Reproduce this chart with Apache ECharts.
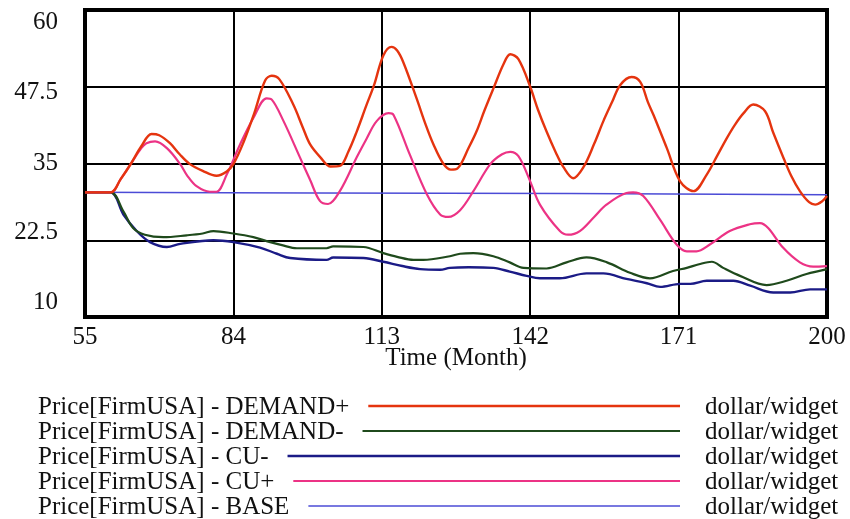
<!DOCTYPE html>
<html>
<head>
<meta charset="utf-8">
<script src="https://cdn.jsdelivr.net/npm/echarts@6/dist/echarts.min.js"></script>
<style>
html,body{margin:0;padding:0;background:#fff;}
#chart{width:850px;height:519px;}
</style>
</head>
<body>
<div id="chart"></div>
<script>
// ---- data (month, price) ----
const demandPlus = [[55,30.3],[60,30.3],[62,32.5],[64,35],[66,37.8],[68,39.8],[69.5,39.6],[71.6,38.3],[73.5,36.5],[75.5,34.9],[78,33.8],[80.7,33],[82.7,33.7],[84,34.9],[86,38.5],[88,43],[90.2,48.5],[91.5,49.3],[93,48.7],[95.7,44.6],[97.5,41],[99,38.1],[101,36],[103,34.5],[104.8,34.6],[106.5,37],[108.1,40.2],[110,44.5],[111.5,47.8],[113.3,52.6],[114.9,54],[116,53.4],[117.2,51.5],[119.8,45.6],[121.5,41.5],[123.1,38.1],[125,35],[126.5,34],[127.8,34.2],[130,37.6],[131.5,40.2],[133,43.5],[134.8,47.2],[136.8,51.2],[138.1,52.8],[139.7,52],[142,47.5],[143.5,43.8],[145.2,40.2],[147,36.8],[148.5,34.4],[150.4,32.6],[152.4,34.4],[154.5,38.2],[156.3,41.9],[158,45],[159.6,47.8],[161.8,49.1],[163.5,48.3],[165,45],[166.1,42.9],[168.7,37.5],[171.3,32.1],[173.9,30.5],[176.5,33.2],[178.5,36.2],[180.4,39.1],[182,41.3],[183.7,43.2],[185.6,44.6],[187.9,43.5],[189.5,40],[191.5,35.9],[193,33],[194.7,30.5],[196.5,28.7],[197.7,28.3],[199,28.8],[200,29.7]];
const demandMinus = [[55,30.3],[60,30.3],[62.5,27.2],[64.4,24.5],[66.7,23.4],[70.3,23],[74.9,23.3],[78,23.6],[80.1,24],[84,23.6],[87.9,23],[91.2,22.2],[93.5,21.7],[96.4,21.2],[102.2,21.2],[103.5,21.5],[109.4,21.4],[113.3,20.4],[116,19.8],[119.2,19.3],[121.1,19.3],[126.3,19.9],[128.3,20.3],[130.9,20.4],[134.8,19.9],[138,18.9],[140.7,18],[145.2,17.9],[149.1,18.9],[153,19.7],[157,18.9],[161.5,17.2],[165.4,16.3],[169.9,17.5],[172.6,18],[175,18.6],[177.5,19],[179.7,18],[183,16.7],[188.2,15.2],[192.1,15.9],[196,17],[200,17.8]];
const cuMinus = [[55,30.3],[60,30.3],[62.5,26.7],[65.1,24],[67.7,22.2],[71,21.4],[73.6,21.9],[80.1,22.5],[84,22.2],[89.2,21.3],[92.5,20.3],[95.1,19.6],[102.2,19.3],[103.5,19.7],[109.4,19.6],[113.3,19],[117,18.3],[120.5,17.8],[124.4,17.7],[126.3,18],[130,18.1],[134.8,18],[138,17.4],[141.3,16.7],[143.9,16.3],[147.8,16.3],[153,17.1],[156.3,17.1],[160.8,16.2],[164.8,15.5],[167.4,14.9],[171.3,15.4],[173.3,15.4],[176.5,15.9],[181.7,15.9],[185,15.1],[189.5,14],[192.8,14],[196.7,14.5],[200,14.5]];
const cuPlus = [[55,30.3],[60,30.3],[62,32.5],[64,35],[66,37.5],[67,38.3],[68.7,38.6],[71,37.5],[73.6,34.9],[75,33],[76.8,31.3],[79.4,30.4],[80.7,30.4],[82.7,33.2],[85.3,38.1],[87.9,42.4],[90.5,45.6],[91.5,45.4],[93.8,41.9],[97,36],[99,32.3],[100.9,28.9],[102.5,28.4],[104.8,30.5],[108.1,36],[110,39],[112,41.9],[114.3,43.2],[115.3,42.9],[118.5,36.4],[121.8,30],[124.4,26.7],[126,26.3],[128.3,27.4],[130.9,30.5],[134.2,34.9],[136.5,36.5],[138.1,36.9],[139.7,36.2],[141.8,32.5],[143.9,28.3],[147.8,24],[149.4,23.4],[151.7,24],[154.5,26.3],[156.9,28.3],[160.8,30.2],[162.1,30.3],[164.1,29.7],[167.4,25.8],[170.6,21.8],[172.6,20.7],[174.5,20.7],[177.1,21.8],[181,24],[184.9,25.1],[186.9,25.3],[188.5,24.5],[191.4,21.3],[194.7,18.9],[197.3,18.2],[200,18.3]];
const base = [[55,30.3],[100,30.2],[150,30.1],[200,29.9]];

const seriesNames = ['Price[FirmUSA] - DEMAND+','Price[FirmUSA] - DEMAND-','Price[FirmUSA] - CU-','Price[FirmUSA] - CU+','Price[FirmUSA] - BASE'];
const seriesData = [demandPlus, demandMinus, cuMinus, cuPlus, base];
const seriesUnits = ['dollar/widget','dollar/widget','dollar/widget','dollar/widget','dollar/widget'];
const seriesColors = ['#e5340f','#1f4a1c','#1b1b86','#ec3385','#4b4bd6'];
const seriesWidths = [2.4,2.2,2.4,2.2,1.5];

const yTicks = [10,22.5,35,47.5,60];
const xTicks = [55,84,113,142,171,200];

const FONT = '"Liberation Serif","Times New Roman",serif';
const FS = 25;

const chart = echarts.init(document.getElementById('chart'), null, {renderer:'canvas'});

// legend drawn as graphic rows: text, line, unit
function textW(s){
  const c = document.createElement('canvas').getContext('2d');
  c.font = FS + 'px ' + FONT;
  return c.measureText(s).width;
}
const legendGraphics = [];
const legendX = 38, legendY0 = 406, legendDy = 25, lineEnd = 680, unitX = 705;
seriesNames.forEach((n,i)=>{
  const y = legendY0 + i*legendDy;
  legendGraphics.push({type:'text', left:legendX, top:y-FS/2+1, style:{text:n, font:FS+'px '+FONT, fill:'#111'}});
  const x1 = legendX + textW(n) + 19;
  legendGraphics.push({type:'line', shape:{x1:x1,y1:y,x2:lineEnd,y2:y}, style:{stroke:seriesColors[i], lineWidth:seriesWidths[i]}});
  legendGraphics.push({type:'text', left:unitX, top:y-FS/2+1, style:{text:seriesUnits[i], font:FS+'px '+FONT, fill:'#111'}});
});

const yShift = {'60':'a','47.5':'b','35':'c','22.5':'d','10':'e'};

// draw order: base first, then others, DEMAND+ on top
const order = [4,2,1,3,0];
const series = order.map(i=>({
  name: seriesNames[i],
  type:'line',
  data: seriesData[i],
  showSymbol:false,
  smooth:0.35,
  lineStyle:{color:seriesColors[i], width:seriesWidths[i]},
  itemStyle:{color:seriesColors[i]},
  animation:false
}));

chart.setOption({
  animation:false,
  backgroundColor:'#fff',
  grid:{left:85, right:23, top:10, bottom:202, show:true, borderColor:'#000', borderWidth:4, backgroundColor:'transparent'},
  xAxis:{
    type:'value', min:xTicks[0], max:xTicks[xTicks.length-1], interval:29,
    axisLine:{show:false}, axisTick:{show:false},
    splitLine:{show:true, lineStyle:{color:'#000', width:2}},
    axisLabel:{color:'#111', fontFamily:FONT, fontSize:FS, margin:8, showMinLabel:true, showMaxLabel:true},
    name:'Time (Month)', nameLocation:'middle', nameGap:29, nameMoveOverlap:false,
    nameTextStyle:{color:'#111', fontFamily:FONT, fontSize:FS}
  },
  yAxis:{
    type:'value', min:yTicks[0], max:yTicks[yTicks.length-1], interval:12.5,
    axisLine:{show:false}, axisTick:{show:false},
    splitLine:{show:true, lineStyle:{color:'#000', width:2}},
    axisLabel:{
      color:'#111', fontFamily:FONT, fontSize:FS, margin:27,
      formatter:(v)=>'{'+(yShift[String(v)]||'c')+'|'+v+'}',
      rich:{
        a:{fontFamily:FONT,fontSize:FS,color:'#111',padding:[24,0,0,0]},
        b:{fontFamily:FONT,fontSize:FS,color:'#111',padding:[12,0,0,0]},
        c:{fontFamily:FONT,fontSize:FS,color:'#111'},
        d:{fontFamily:FONT,fontSize:FS,color:'#111',padding:[0,0,16,0]},
        e:{fontFamily:FONT,fontSize:FS,color:'#111',padding:[0,0,30,0]}
      }
    }
  },
  graphic: legendGraphics,
  series: series
});
</script>
</body>
</html>
